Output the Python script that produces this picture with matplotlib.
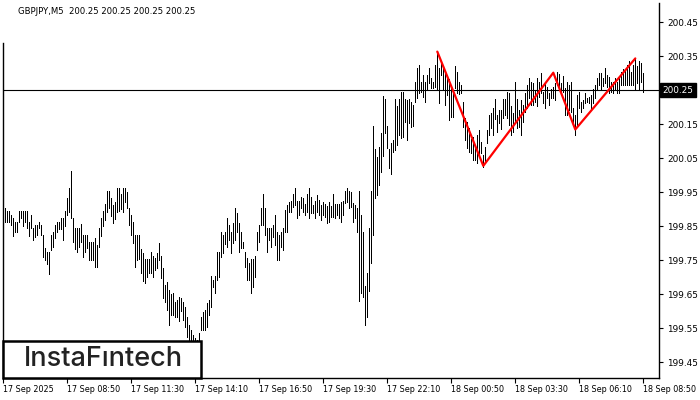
import matplotlib
matplotlib.use("Agg")
import matplotlib.pyplot as plt
import matplotlib.transforms as mtransforms
from matplotlib.patches import Rectangle

# GBPJPY M5 bars, 5 minute bars, high / low
highs = [
    199.912, 199.903, 199.894, 199.894, 199.883, 199.874, 199.862, 199.862, 199.894, 199.894,
    199.894, 199.894, 199.894, 199.862, 199.883, 199.845, 199.853, 199.853, 199.862, 199.853,
    199.824, 199.786, 199.774, 199.774, 199.824, 199.833, 199.853, 199.862, 199.862, 199.874,
    199.874, 199.894, 199.933, 199.962, 200.012, 199.874, 199.845, 199.845, 199.845, 199.856,
    199.824, 199.824, 199.824, 199.803, 199.803, 199.803, 199.815, 199.795, 199.845, 199.874,
    199.894, 199.915, 199.953, 199.953, 199.933, 199.912, 199.921, 199.962, 199.962, 199.945,
    199.962, 199.962, 199.950, 199.903, 199.883, 199.862, 199.824, 199.824, 199.824, 199.783,
    199.771, 199.753, 199.753, 199.753, 199.774, 199.762, 199.756, 199.771, 199.800, 199.762,
    199.727, 199.677, 199.686, 199.662, 199.651, 199.653, 199.627, 199.632, 199.642, 199.639,
    199.627, 199.612, 199.583, 199.559, 199.544, 199.530, 199.521, 199.515, 199.536, 199.583,
    199.598, 199.603, 199.624, 199.632, 199.703, 199.691, 199.703, 199.774, 199.774, 199.833,
    199.824, 199.833, 199.874, 199.853, 199.833, 199.859, 199.903, 199.889, 199.859, 199.833,
    199.803, 199.774, 199.756, 199.742, 199.753, 199.753, 199.762, 199.833, 199.853, 199.903,
    199.945, 199.903, 199.845, 199.845, 199.845, 199.853, 199.883, 199.833, 199.824, 199.833,
    199.845, 199.897, 199.912, 199.921, 199.924, 199.945, 199.962, 199.924, 199.924, 199.936,
    199.933, 199.915, 199.945, 199.962, 199.936, 199.912, 199.924, 199.942, 199.927, 199.912,
    199.921, 199.915, 199.909, 199.921, 199.909, 199.945, 199.915, 199.915, 199.915, 199.921,
    199.924, 199.953, 199.962, 199.953, 199.950, 199.918, 199.912, 199.903, 199.953, 199.883,
    199.833, 199.674, 199.712, 199.845, 199.953, 200.144, 200.077, 200.053, 200.083, 200.124,
    200.232, 200.224, 200.144, 200.077, 200.094, 200.103, 200.224, 200.203, 200.224, 200.244,
    200.245, 200.224, 200.221, 200.224, 200.216, 200.206, 200.275, 200.315, 200.324, 200.275,
    200.294, 200.275, 200.294, 200.315, 200.285, 200.275, 200.324, 200.363, 200.315, 200.333,
    200.321, 200.304, 200.294, 200.282, 200.265, 200.250, 200.321, 200.304, 200.275, 200.265,
    200.216, 200.167, 200.157, 200.138, 200.105, 200.113, 200.085, 200.118, 200.132, 200.098,
    200.059, 200.083, 200.132, 200.176, 200.183, 200.196, 200.223, 200.176, 200.191, 200.191,
    200.223, 200.223, 200.245, 200.242, 200.203, 200.183, 200.275, 200.223, 200.191, 200.221,
    200.206, 200.240, 200.265, 200.285, 200.275, 200.270, 200.250, 200.285, 200.275, 200.301,
    200.245, 200.275, 200.260, 200.240, 200.252, 200.260, 200.272, 200.304, 200.297, 200.272,
    200.291, 200.255, 200.275, 200.265, 200.275, 200.196, 200.176, 200.235, 200.245, 200.216,
    200.221, 200.240, 200.226, 200.230, 200.235, 200.252, 200.265, 200.285, 200.301, 200.301,
    200.285, 200.314, 200.294, 200.287, 200.275, 200.275, 200.285, 200.275, 200.289, 200.304,
    200.311, 200.311, 200.324, 200.336, 200.304, 200.324, 200.343, 200.321, 200.336, 200.329,
    200.301,
]
lows = [
    199.862, 199.862, 199.862, 199.862, 199.853, 199.821, 199.833, 199.833, 199.862, 199.874,
    199.850, 199.862, 199.845, 199.821, 199.845, 199.809, 199.818, 199.824, 199.845, 199.824,
    199.759, 199.750, 199.739, 199.709, 199.780, 199.789, 199.815, 199.833, 199.842, 199.842,
    199.809, 199.850, 199.883, 199.892, 199.874, 199.803, 199.783, 199.774, 199.789, 199.803,
    199.759, 199.774, 199.786, 199.750, 199.750, 199.750, 199.730, 199.730, 199.789, 199.821,
    199.850, 199.868, 199.892, 199.903, 199.880, 199.859, 199.871, 199.892, 199.895, 199.900,
    199.892, 199.921, 199.903, 199.853, 199.824, 199.800, 199.730, 199.750, 199.753, 199.712,
    199.689, 199.683, 199.700, 199.712, 199.712, 199.700, 199.721, 199.727, 199.750, 199.698,
    199.639, 199.627, 199.603, 199.559, 199.589, 199.589, 199.583, 199.583, 199.571, 199.600,
    199.574, 199.553, 199.524, 199.512, 199.506, 199.497, 199.488, 199.480, 199.503, 199.544,
    199.544, 199.544, 199.553, 199.589, 199.612, 199.671, 199.653, 199.691, 199.700, 199.759,
    199.771, 199.798, 199.789, 199.809, 199.771, 199.800, 199.809, 199.833, 199.774, 199.786,
    199.786, 199.730, 199.691, 199.691, 199.653, 199.671, 199.700, 199.780, 199.803, 199.853,
    199.853, 199.824, 199.774, 199.809, 199.789, 199.818, 199.795, 199.750, 199.750, 199.789,
    199.780, 199.833, 199.833, 199.892, 199.892, 199.906, 199.912, 199.874, 199.883, 199.903,
    199.892, 199.883, 199.892, 199.874, 199.889, 199.889, 199.874, 199.892, 199.883, 199.868,
    199.883, 199.877, 199.859, 199.862, 199.877, 199.877, 199.874, 199.883, 199.874, 199.862,
    199.883, 199.918, 199.921, 199.903, 199.906, 199.862, 199.874, 199.833, 199.630, 199.653,
    199.642, 199.559, 199.583, 199.659, 199.742, 199.824, 199.933, 199.942, 199.971, 200.009,
    200.056, 200.124, 200.080, 200.021, 200.003, 200.068, 200.074, 200.089, 200.118, 200.109,
    200.113, 200.157, 200.103, 200.154, 200.142, 200.144, 200.216, 200.227, 200.241, 200.245,
    200.230, 200.216, 200.250, 200.271, 200.256, 200.256, 200.260, 200.252, 200.213, 200.294,
    200.250, 200.206, 200.235, 200.162, 200.171, 200.171, 200.255, 200.242, 200.238, 200.242,
    200.142, 200.103, 200.079, 200.069, 200.064, 200.044, 200.044, 200.035, 200.054, 200.064,
    200.023, 200.036, 200.093, 200.118, 200.138, 200.118, 200.164, 200.127, 200.152, 200.135,
    200.167, 200.176, 200.167, 200.147, 200.118, 200.127, 200.157, 200.138, 200.142, 200.118,
    200.157, 200.186, 200.196, 200.226, 200.206, 200.206, 200.216, 200.203, 200.230, 200.240,
    200.213, 200.196, 200.226, 200.206, 200.226, 200.226, 200.221, 200.265, 200.250, 200.240,
    200.245, 200.176, 200.176, 200.191, 200.186, 200.154, 200.118, 200.142, 200.196, 200.186,
    200.196, 200.211, 200.216, 200.211, 200.196, 200.211, 200.226, 200.250, 200.265, 200.252,
    200.262, 200.270, 200.260, 200.242, 200.245, 200.242, 200.250, 200.242, 200.242, 200.265,
    200.265, 200.265, 200.265, 200.265, 200.265, 200.265, 200.252, 200.270, 200.252, 200.275,
    200.245,
]

last_price = 200.25
title = "GBPJPY,M5  200.25 200.25 200.25 200.25"

# red pattern line (bar index, price)
pattern_idx = [217, 240, 275, 286, 316]
pattern_px = [200.363, 200.027, 200.301, 200.134, 200.343]

yticks = [199.45, 199.55, 199.65, 199.75, 199.85, 199.95, 200.05, 200.15, 200.25, 200.35, 200.45]
xtick_idx = [0, 32, 64, 96, 128, 160, 192, 224, 256, 288, 320]
xtick_labels = ["17 Sep 2025", "17 Sep 08:50", "17 Sep 11:30", "17 Sep 14:10", "17 Sep 16:50",
                "17 Sep 19:30", "17 Sep 22:10", "18 Sep 00:50", "18 Sep 03:30", "18 Sep 06:10",
                "18 Sep 08:50"]

plt.rcParams['font.family'] = ['DejaVu Sans']
fs = 5.8
fs_y = 6.4

fig = plt.figure(figsize=(7, 4), dpi=100)
ax = fig.add_axes([2.7 / 700, 22 / 400, 656.6 / 700, 375 / 400])

idx = list(range(len(highs)))
ax.vlines(idx, lows, highs, color='black', linewidth=0.6, antialiased=False, zorder=2)
ax.axhline(last_price, color='black', linewidth=0.8, zorder=1)
ax.plot(pattern_idx, pattern_px, color='red', linewidth=1.6, zorder=3, solid_capstyle='round')

ax.set_xlim(-0.3, 328)
ax.set_ylim(199.403, 200.506)

ax.spines['top'].set_visible(False)
for s in ['left', 'right', 'bottom']:
    ax.spines[s].set_linewidth(1.0)
ax.spines['left'].set_bounds(199.403, 200.388)

ax.yaxis.tick_right()
ax.set_yticks(yticks)
# the 200.25 label sits under the current price box
ax.set_yticklabels(["" if abs(v - last_price) < 1e-9 else f"{v:.2f}" for v in yticks], fontsize=fs_y)
ax.tick_params(axis='y', length=3, width=0.8, pad=2.5)

ax.set_xticks(xtick_idx)
ax.set_xticklabels(xtick_labels, fontsize=fs)
ax.tick_params(axis='x', length=3.5, width=0.8, pad=1.5)
for lbl in ax.get_xticklabels():
    lbl.set_ha('left')

# current price box
trans = mtransforms.blended_transform_factory(ax.transAxes, ax.transData)
ax.text(1.005, last_price, f"{last_price:.2f}", transform=trans, fontsize=fs_y, color='white',
        va='center', ha='left', clip_on=False,
        bbox=dict(facecolor='black', edgecolor='black', boxstyle='square,pad=0.25'), zorder=6)

fig.text(18 / 700, 1 - 12 / 400, title, fontsize=6.1, va='center', ha='left')

# logo box
ax.add_patch(Rectangle((0, 0), 198 / 656.6, 37 / 375, transform=ax.transAxes,
                       facecolor='white', edgecolor='black', linewidth=1.8,
                       zorder=5, clip_on=False))
ax.text(101 / 656.6, 18.5 / 375, "InstaFıntech", transform=ax.transAxes, fontsize=19.5,
        family=['Inter', 'DejaVu Sans'], weight='medium', color='#222222',
        ha='center', va='center', zorder=6)

fig.savefig("out.png", dpi=100)
